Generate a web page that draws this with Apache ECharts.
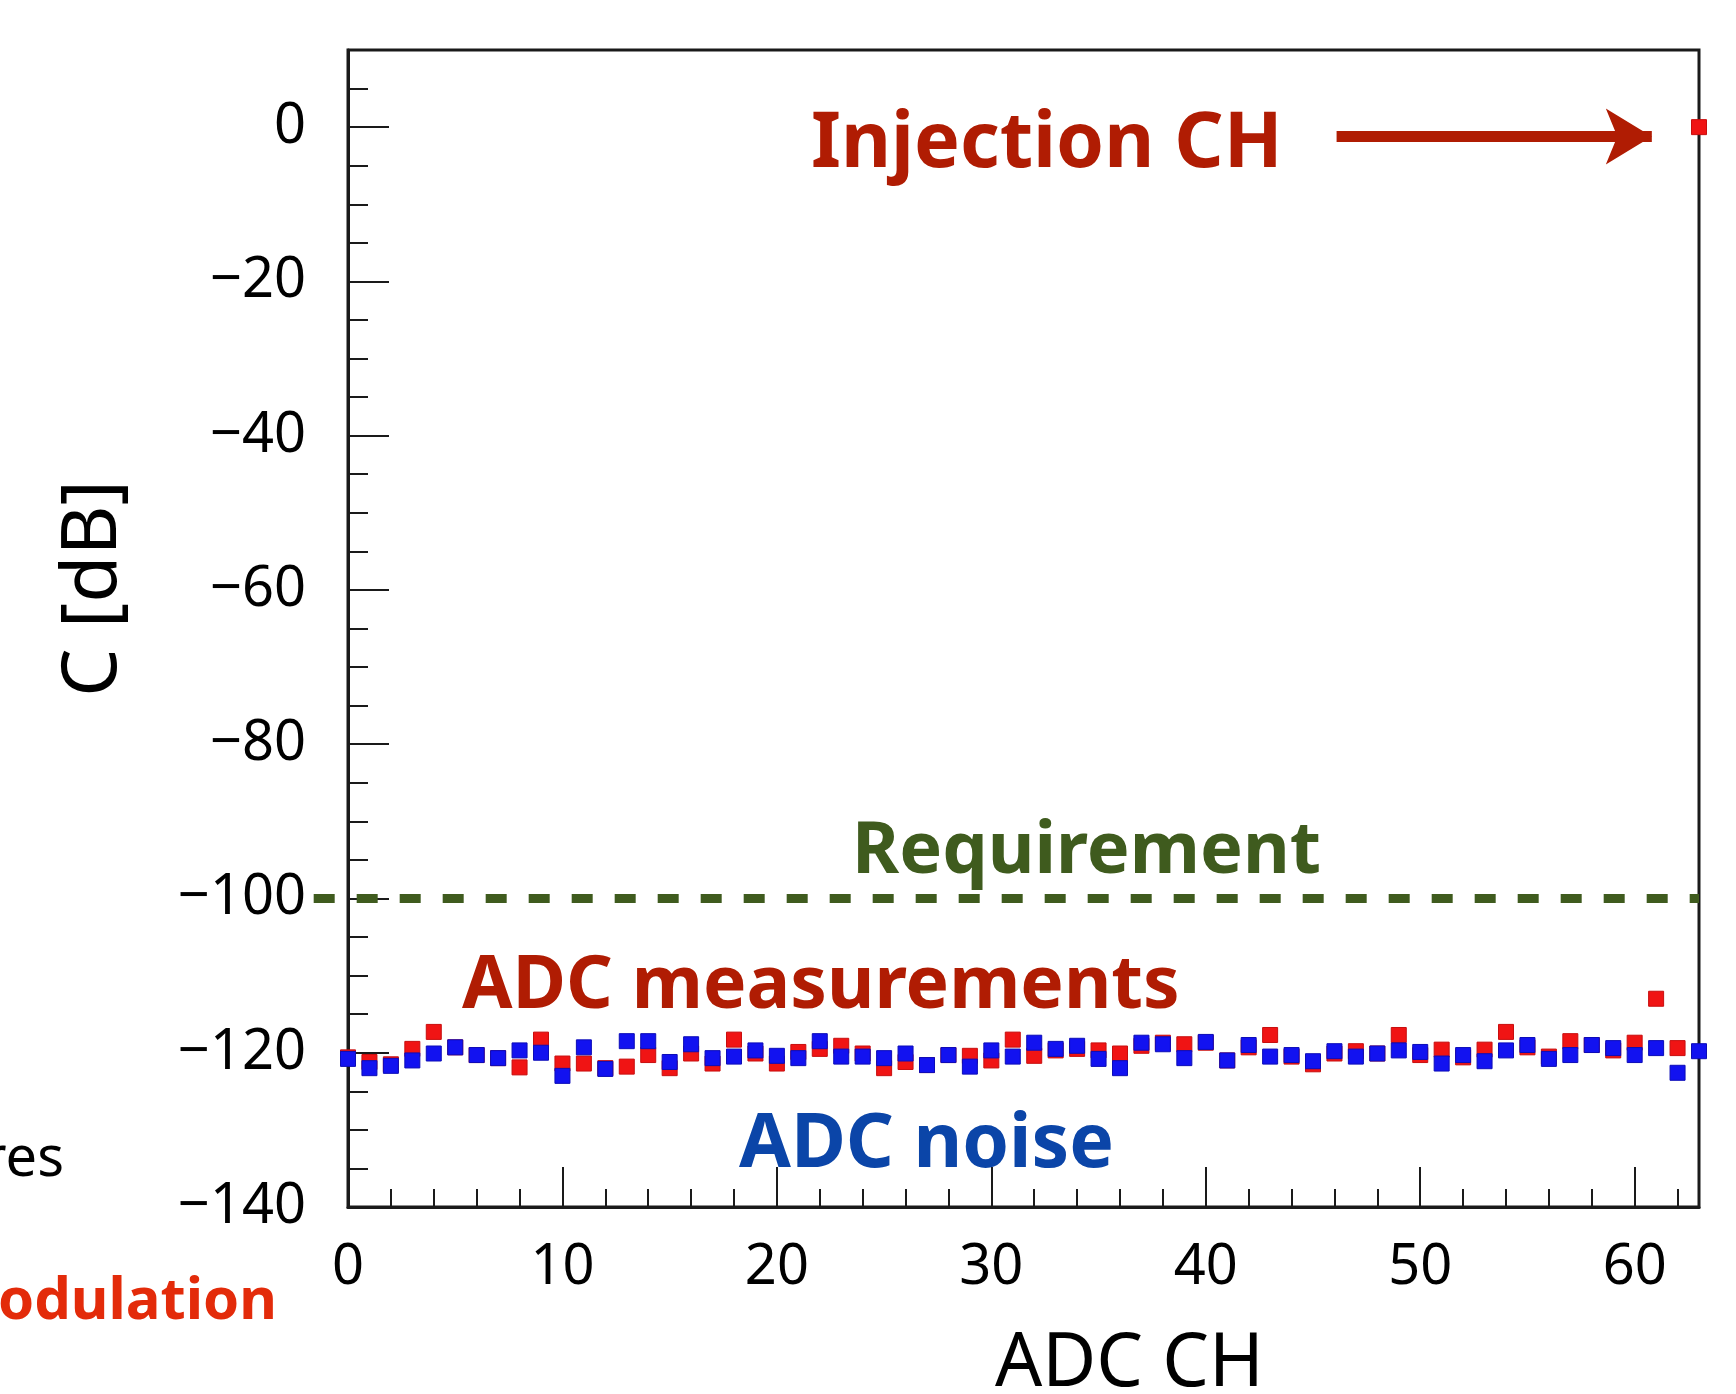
<!DOCTYPE html>
<html>
<head>
<meta charset="utf-8">
<script src="https://cdn.jsdelivr.net/npm/echarts@6/dist/echarts.min.js"></script>
<style>
html,body{margin:0;padding:0;background:#fff;}
#chart{width:1736px;height:1394px;}
</style>
</head>
<body>
<div id="chart"></div>
<script>
// ADC channel numbers
const channels = Array.from({length: 64}, (_, i) => i);
// crosstalk C [dB], ADC measurements (red); channel 63 is the injection channel
const measurements = [
  -120.6, -121.2, -121.5, -119.5, -117.3, -119.3, -120.3, -120.7, -121.9, -118.3,
  -121.4, -121.4, -122.0, -121.8, -120.3, -122.0, -120.1, -121.4, -118.3, -120.1,
  -121.4, -119.9, -119.5, -119.1, -120.1, -122.0, -121.2, -121.6, -120.3, -120.4,
  -121.0, -118.3, -120.4, -119.7, -119.5, -119.7, -120.1, -119.1, -118.7, -118.9,
  -118.7, -121.0, -119.3, -117.7, -120.5, -121.5, -120.1, -119.8, -120.1, -117.7,
  -120.3, -119.6, -120.6, -119.6, -117.3, -119.3, -120.5, -118.5, -119.0, -119.7,
  -118.7, -113.0, -119.4, 0
];
// ADC noise (blue)
const noise = [
  -120.8, -122.0, -121.7, -121.0, -120.1, -119.3, -120.3, -120.7, -119.7, -120.0,
  -123.0, -119.3, -122.1, -118.5, -118.5, -121.2, -118.9, -120.7, -120.5, -119.7,
  -120.4, -120.7, -118.5, -120.5, -120.5, -120.7, -120.1, -121.6, -120.3, -121.8,
  -119.7, -120.5, -118.7, -119.5, -119.1, -120.8, -122.0, -118.7, -118.9, -120.7,
  -118.6, -121.0, -119.0, -120.5, -120.3, -121.1, -119.8, -120.5, -120.1, -119.7,
  -119.9, -121.4, -120.3, -121.1, -119.7, -119.0, -120.8, -120.3, -119.0, -119.4,
  -120.3, -119.4, -122.6, -119.8
];
// requirement level [dB] and the x span of its dashed line
const requirementLevel = -100;
const requirementSpan = [-1.6, 63];
// injection-channel arrow (x from/to, level)
const arrowX = [46.1, 60.8];
const arrowLevel = -1.2;

const FONT = '"Noto Sans", "DejaVu Sans", sans-serif';
const AX = '#1a1a1a';

const chart = echarts.init(document.getElementById('chart'), null, {renderer: 'canvas'});

const option = {
  animation: false,
  backgroundColor: '#ffffff',
  grid: {left: 348, right: 37, top: 50, bottom: 187, containLabel: false, outerBoundsMode: 'none',
         show: true, borderColor: AX, borderWidth: 3, backgroundColor: 'transparent'},
  xAxis: [
    { // minor ticks every 2 channels
      type: 'value', min: 0, max: 63, interval: 2, position: 'bottom',
      axisLine: {show: true, onZero: false, lineStyle: {color: AX, width: 3}},
      axisTick: {show: true, inside: true, length: 18, lineStyle: {color: AX, width: 2}},
      axisLabel: {show: false}, splitLine: {show: false}
    },
    { // major ticks + labels
      type: 'value', min: 0, max: 63, interval: 10, position: 'bottom',
      axisLine: {show: false, onZero: false},
      axisTick: {show: true, inside: true, length: 40, lineStyle: {color: AX, width: 2}},
      axisLabel: {show: true, margin: 33, fontSize: 56, fontFamily: FONT, color: '#000',
        formatter: v => (v % 10 === 0 ? String(v) : '')},
      splitLine: {show: false},
      name: 'ADC CH', nameLocation: 'middle', nameGap: 121,
      nameTextStyle: {fontSize: 74, fontFamily: FONT, color: '#000', padding: [0, 0, 0, 212]}
    }
  ],
  yAxis: [
    { // minor ticks every 5 dB
      type: 'value', min: -140, max: 10, interval: 5,
      axisLine: {show: true, onZero: false, lineStyle: {color: AX, width: 3}},
      axisTick: {show: true, inside: true, length: 20, lineStyle: {color: AX, width: 2}},
      axisLabel: {show: false}, splitLine: {show: false}
    },
    { // major ticks + labels
      type: 'value', min: -140, max: 10, interval: 20, position: 'left',
      axisLine: {show: false, onZero: false},
      axisTick: {show: true, inside: true, length: 41, lineStyle: {color: AX, width: 2}},
      axisLabel: {show: true, margin: 42, fontSize: 56, fontFamily: FONT, color: '#000',
        formatter: v => (v <= 0 && v % 20 === 0 ? String(v).replace('-', '\u2212') : '')},
      splitLine: {show: false},
      name: 'C [dB]', nameLocation: 'middle', nameGap: 215, nameRotate: 90,
      nameTextStyle: {fontSize: 77, fontFamily: FONT, color: '#000', padding: [0, 0, 0, 80]}
    }
  ],
  series: [
    {
      name: 'ADC measurements', type: 'scatter', xAxisIndex: 0, yAxisIndex: 0,
      data: channels.map((c, i) => [c, measurements[i]]),
      symbol: 'rect', symbolSize: 15, clip: false, z: 6,
      itemStyle: {color: '#F01414', opacity: 1, borderColor: '#C80E0E', borderWidth: 1},
      markLine: {
        silent: true, symbol: ['none', 'arrow'], symbolSize: [42, 46],
        label: {show: false},
        lineStyle: {color: '#B01C03', width: 11, type: 'solid', opacity: 1},
        data: [[{coord: [arrowX[0], arrowLevel]}, {coord: [arrowX[1], arrowLevel]}]]
      }
    },
    {
      name: 'ADC noise', type: 'scatter', xAxisIndex: 0, yAxisIndex: 0,
      data: channels.map((c, i) => [c, noise[i]]),
      symbol: 'rect', symbolSize: 15, clip: false, z: 7,
      itemStyle: {color: '#1212F0', opacity: 1, borderColor: '#0C0CB8', borderWidth: 1}
    }
  ],
  graphic: [
    {type: 'text', left: 811, top: 140 - 50 + 17, style: {text: 'Injection CH', font: 'bold 77px ' + FONT, fill: '#B01C03'}},
    {type: 'text', left: 852, top: 847 - 50 + 19, style: {text: 'Requirement', font: 'bold 72px ' + FONT, fill: '#3F5B1E'}},
    {type: 'text', left: 462, top: 983 - 50 + 18, style: {text: 'ADC measurements', font: 'bold 73px ' + FONT, fill: '#B01C03'}},
    {type: 'text', left: 739, top: 1140 - 51 + 19, style: {text: 'ADC noise', font: 'bold 75px ' + FONT, fill: '#0B45A8'}},
    {type: 'text', right: 1736 - 64, top: 1157 - 40 + 15, style: {text: 'res', font: '56px ' + FONT, fill: '#000'}},
    {type: 'text', right: 1736 - 277, top: 1297 - 41 + 17, style: {text: 'odulation', font: 'bold 58px ' + FONT, fill: '#E32B0A'}}
  ]
};
chart.setOption(option);

// Requirement dashed line, placed through the chart's own scales
const p0 = chart.convertToPixel({xAxisIndex: 0, yAxisIndex: 0}, [requirementSpan[0], requirementLevel]);
const p1 = chart.convertToPixel({xAxisIndex: 0, yAxisIndex: 0}, [requirementSpan[1], requirementLevel]);
chart.setOption({
  graphic: [{
    type: 'line', id: 'requirement', z: 5, silent: true,
    shape: {x1: p0[0], y1: p0[1], x2: p1[0], y2: p1[1]},
    style: {stroke: '#3F5B1E', lineWidth: 9, lineDash: [21, 22]}
  }]
});
</script>
</body>
</html>
